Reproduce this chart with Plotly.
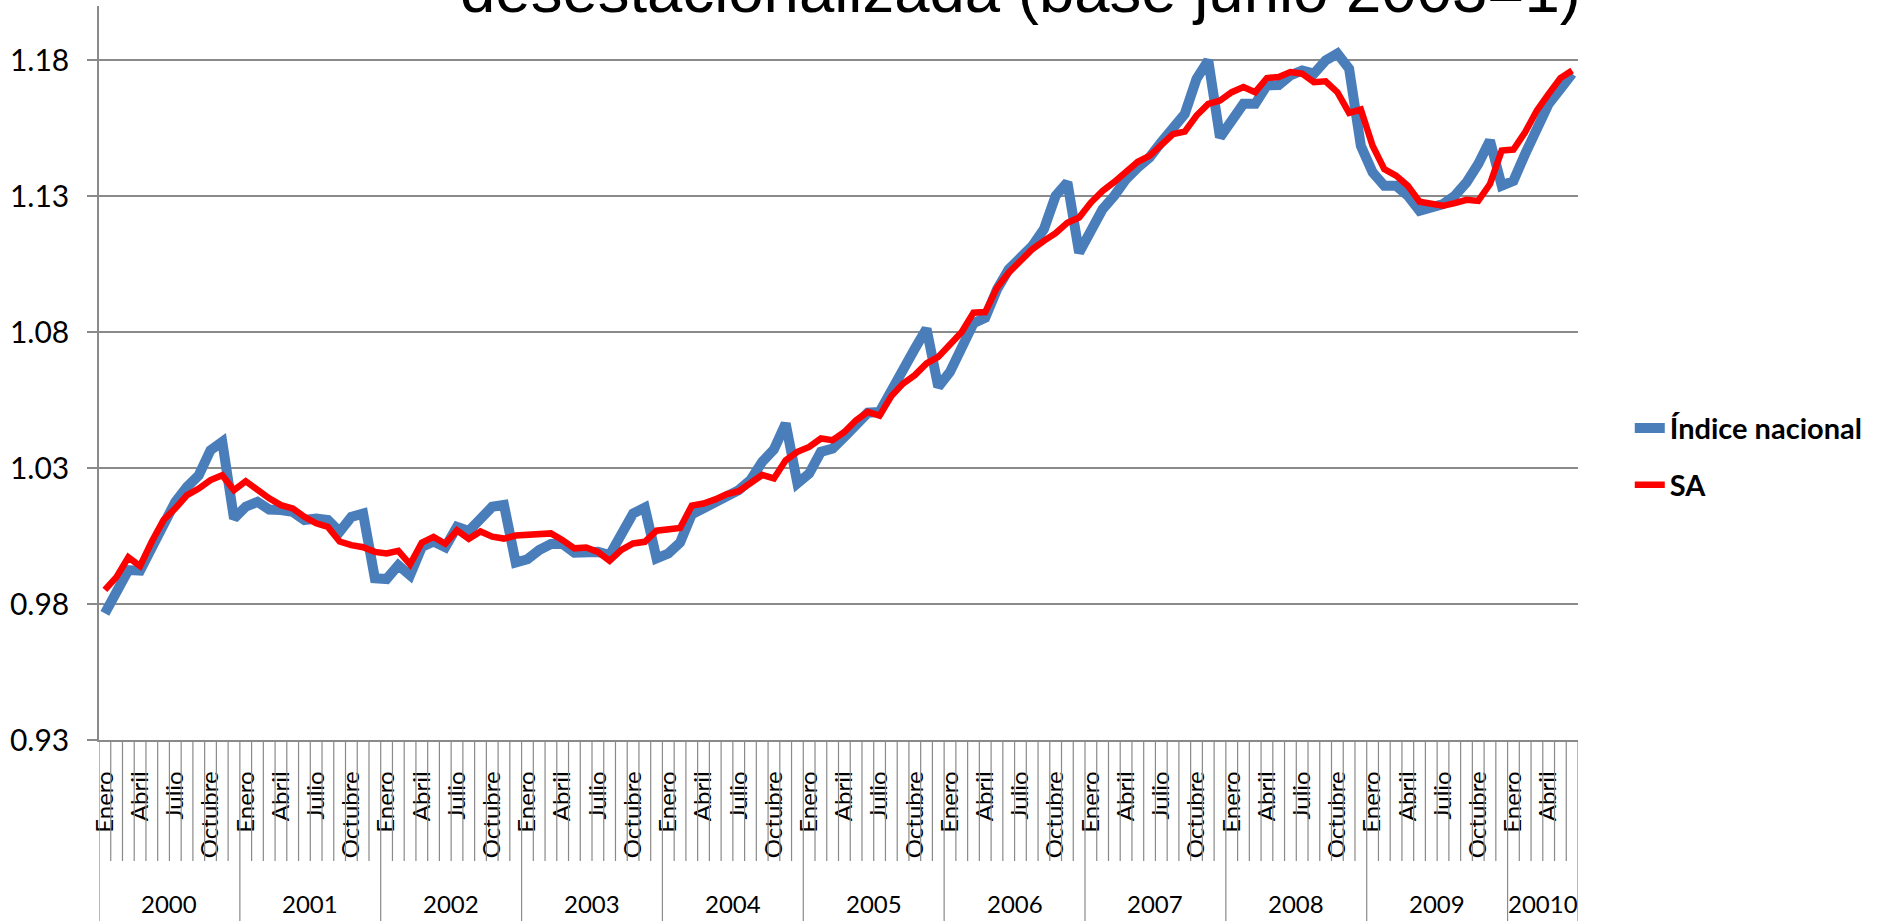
import plotly.graph_objects as go

# ---------------- data ----------------
years = ["2000", "2001", "2002", "2003", "2004", "2005", "2006", "2007", "2008", "2009", "20010"]
months = ["Enero", "Febrero", "Marzo", "Abril", "Mayo", "Junio", "Julio",
          "Agosto", "Septiembre", "Octubre", "Noviembre", "Diciembre"]
labeled_months = ["Enero", "Abril", "Julio", "Octubre"]
n_months_last_year = 6

indice_nacional = [
    0.9766, 0.9840, 0.9925, 0.9923, 1.0010, 1.0097, 1.0176, 1.0231, 1.0274, 1.0366, 1.0397, 1.0115,
    1.0158, 1.0176, 1.0148, 1.0146, 1.0139, 1.0109, 1.0115, 1.0109, 1.0066, 1.0121, 1.0133, 0.9895,
    0.9892, 0.9943, 0.9906, 1.0010, 1.0030, 1.0009, 1.0084, 1.0069, 1.0113, 1.0158, 1.0165, 0.9953,
    0.9965, 0.9999, 1.0021, 1.0021, 0.9989, 0.9992, 0.9992, 0.9980, 1.0054, 1.0133, 1.0155, 0.9968,
    0.9986, 1.0026, 1.0130, 1.0152, 1.0167, 1.0198, 1.0219, 1.0256, 1.0323, 1.0369, 1.0464, 1.0244,
    1.0280, 1.0360, 1.0372, 1.0415, 1.0461, 1.0504, 1.0507, 1.0580, 1.0648, 1.0739, 1.0813, 1.0599,
    1.0654, 1.0734, 1.0833, 1.0853, 1.0957, 1.1031, 1.1068, 1.1117, 1.1179, 1.1302, 1.1351, 1.1093,
    1.1173, 1.1253, 1.1302, 1.1363, 1.1406, 1.1443, 1.1499, 1.1548, 1.1603, 1.1732, 1.1800, 1.1517,
    1.1579, 1.1640, 1.1640, 1.1708, 1.1709, 1.1745, 1.1763, 1.1751, 1.1800, 1.1825, 1.1769, 1.1486,
    1.1388, 1.1339, 1.1339, 1.1302, 1.1247, 1.1259, 1.1271, 1.1302, 1.1351, 1.1419, 1.1505, 1.1339,
    1.1357, 1.1456, 1.1560, 1.1640, 1.1695, 1.1751,
]

sa = [
    0.9852, 0.9900, 0.9972, 0.9940, 1.0030, 1.0109, 1.0152, 1.0201, 1.0225, 1.0256, 1.0274, 1.0219,
    1.0252, 1.0219, 1.0189, 1.0164, 1.0152, 1.0121, 1.0097, 1.0084, 1.0030, 1.0017, 1.0009, 0.9992,
    0.9986, 0.9996, 0.9946, 1.0026, 1.0047, 1.0022, 1.0071, 1.0040, 1.0067, 1.0048, 1.0041, 1.0052,
    1.0055, 1.0053, 1.0060, 1.0035, 1.0005, 1.0008, 0.9992, 0.9959, 0.9999, 1.0023, 1.0029, 1.0070,
    1.0075, 1.0080, 1.0162, 1.0170, 1.0185, 1.0205, 1.0215, 1.0244, 1.0275, 1.0262, 1.0329, 1.0360,
    1.0378, 1.0409, 1.0403, 1.0433, 1.0476, 1.0507, 1.0493, 1.0565, 1.0611, 1.0642, 1.0685, 1.0709,
    1.0758, 1.0801, 1.0872, 1.0874, 1.0964, 1.1019, 1.1062, 1.1105, 1.1136, 1.1164, 1.1203, 1.1222,
    1.1277, 1.1320, 1.1353, 1.1388, 1.1427, 1.1449, 1.1489, 1.1529, 1.1538, 1.1597, 1.1640, 1.1652,
    1.1683, 1.1702, 1.1683, 1.1735, 1.1739, 1.1757, 1.1751, 1.1720, 1.1723, 1.1683, 1.1607, 1.1619,
    1.1486, 1.1400, 1.1376, 1.1339, 1.1280, 1.1271, 1.1265, 1.1275, 1.1287, 1.1283, 1.1345, 1.1468,
    1.1472, 1.1536, 1.1616, 1.1677, 1.1735, 1.1763,
]

y_ticks = [0.93, 0.98, 1.03, 1.08, 1.13, 1.18]
title_text = "desestacionalizada (base junio 2003=1)"

# ---------------- build categories ----------------
cat_year = []
cat_month = []
for yi, yr in enumerate(years):
    count = n_months_last_year if yi == len(years) - 1 else 12
    for m in range(count):
        cat_year.append(yr)
        cat_month.append(months[m])
n = len(cat_month)
xs = list(range(n))

# ---------------- style ----------------
FONT = "Lato, 'Noto Sans', sans-serif"
GRID = "#8a8a8a"
BLUE = "#4A7EBB"
RED = "#FF0000"

# plot area geometry (pixels)
W, H = 1883, 921
L, R, T, B = 99, 305, 6, 181
plot_h = H - T - B
plot_w = W - L - R

def py(pixels_below_axis):
    return -pixels_below_axis / plot_h

fig = go.Figure()
fig.add_trace(go.Scatter(x=xs, y=indice_nacional, mode="lines", name="Índice nacional",
                         line=dict(color=BLUE, width=10), legendgroup="a"))
fig.add_trace(go.Scatter(x=xs, y=sa, mode="lines", name="SA",
                         line=dict(color=RED, width=6.5), legendgroup="b"))

# category tick lines and year separators
shapes = []
for i in range(n + 1):
    is_year = (i % 12 == 0) or (i == n)
    shapes.append(dict(type="line", xref="x", yref="paper",
                       x0=i - 0.5, x1=i - 0.5, y0=0,
                       y1=py(B) if is_year else py(121),
                       line=dict(color=GRID, width=1.2)))

annotations = []
# year labels
start = 0
for yi, yr in enumerate(years):
    count = n_months_last_year if yi == len(years) - 1 else 12
    annotations.append(dict(x=start + (count - 1) / 2, y=py(163), xref="x", yref="paper",
                            text=yr, showarrow=False, xanchor="center", yanchor="middle",
                            font=dict(family=FONT, size=24, color="black")))
    start += count

# partially visible title (cut at the top edge, as in the original)
annotations.append(dict(x=(1583 - L) / plot_w, y=1.0212, xref="paper", yref="paper",
                        text=title_text, showarrow=False, xanchor="right", yanchor="middle",
                        font=dict(family="'Liberation Sans', Arial, sans-serif", size=63.5, color="black")))

tickvals = [i for i, m in enumerate(cat_month) if m in labeled_months]
ticktext = [cat_month[i] for i in tickvals]

fig.update_layout(
    width=W, height=H,
    margin=dict(l=L, r=R, t=T, b=B, pad=0),
    paper_bgcolor="white", plot_bgcolor="white",
    showlegend=True,
    legend=dict(x=1.035, y=0.386, xanchor="left", yanchor="middle",
                font=dict(family=FONT, size=29, color="black", weight="bold"),
                traceorder="grouped", tracegroupgap=16, bgcolor="rgba(0,0,0,0)"),
    shapes=shapes,
    annotations=annotations,
    xaxis=dict(range=[-0.5, n - 0.5], tickmode="array", tickvals=tickvals, ticktext=ticktext,
               tickangle=-90, ticks="", showgrid=False, zeroline=False,
               showline=True, linecolor=GRID, linewidth=1.5,
               tickfont=dict(family=FONT, size=24, color="black"), ticklabelstandoff=20),
    yaxis=dict(range=[0.93, 1.2], tickmode="array", tickvals=y_ticks,
               ticktext=[f"{v:.2f}" for v in y_ticks],
               showgrid=True, gridcolor=GRID, gridwidth=1.5, zeroline=False,
               showline=True, linecolor=GRID, linewidth=1.5,
               ticks="outside", ticklen=10, tickcolor=GRID, tickwidth=1.5,
               tickfont=dict(family=FONT, size=30, color="black"), ticklabelstandoff=12),
)

fig.write_html("out.html", config={"displayModeBar": False},
               post_script="document.body.style.margin='0';document.body.style.overflow='hidden';")
